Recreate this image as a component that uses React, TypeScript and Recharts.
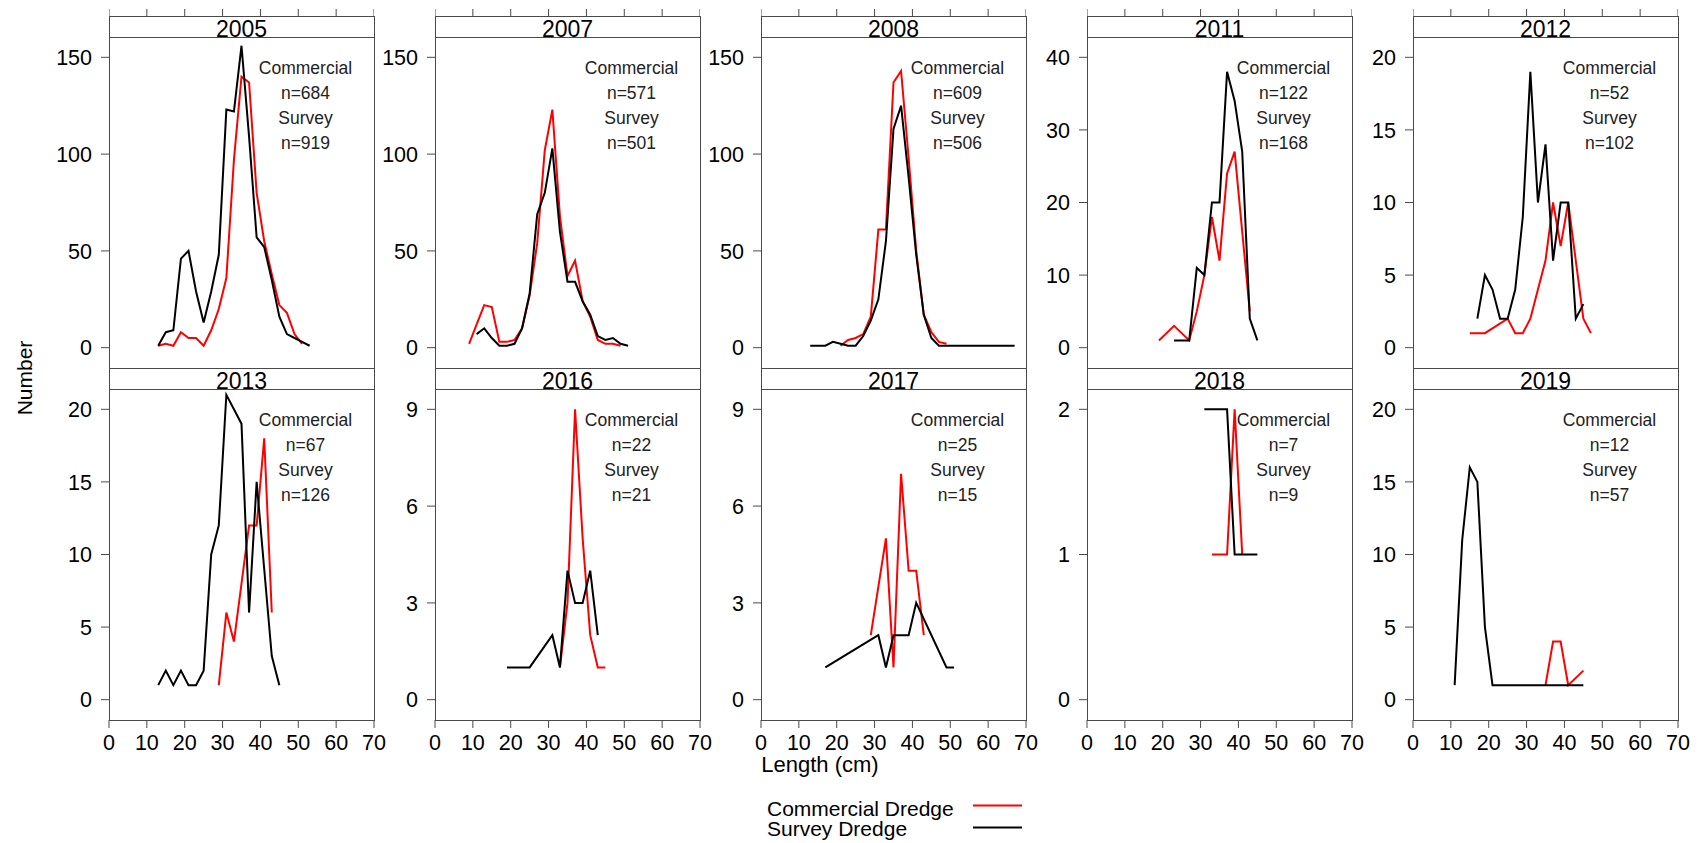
import React from 'react';
import { LineChart, Line, XAxis, YAxis } from 'recharts';

const FONT = '"Liberation Sans", Arial, Helvetica, sans-serif';

// ---- panel metadata ----
const years = ['2005', '2007', '2008', '2011', '2012', '2013', '2016', '2017', '2018', '2019'];
const commercialN = [684, 571, 609, 122, 52, 67, 22, 25, 7, 12];
const surveyN = [919, 501, 506, 168, 102, 126, 21, 15, 9, 57];
const yTickMax = [150, 150, 150, 40, 20, 20, 9, 9, 2, 20];
const yTickStep = [50, 50, 50, 10, 5, 5, 3, 3, 1, 5];
const xTicks = [0, 10, 20, 30, 40, 50, 60, 70];

// ---- length frequency data (length bin mid-point cm, count) ----
const com2005L = [13, 15, 17, 19, 21, 23, 25, 27, 29, 31, 33, 35, 37, 39, 41, 43, 45, 47, 49, 51];
const com2005N = [1, 2, 1, 8, 5, 5, 1, 9, 20, 36, 97, 140, 137, 80, 55, 38, 22, 18, 7, 2];
const sur2005L = [13, 15, 17, 19, 21, 23, 25, 27, 29, 31, 33, 35, 37, 39, 41, 43, 45, 47, 49, 51, 53];
const sur2005N = [1, 8, 9, 46, 50, 29, 13, 29, 48, 123, 122, 156, 109, 57, 52, 35, 16, 7, 5, 3, 1];

const com2007L = [9, 11, 13, 15, 17, 19, 21, 23, 25, 27, 29, 31, 33, 35, 37, 39, 41, 43, 45, 47, 49];
const com2007N = [2, 12, 22, 21, 3, 3, 4, 10, 27, 54, 102, 123, 68, 37, 45, 24, 16, 4, 2, 2, 1];
const sur2007L = [11, 13, 15, 17, 19, 21, 23, 25, 27, 29, 31, 33, 35, 37, 39, 41, 43, 45, 47, 49, 51];
const sur2007N = [7, 10, 5, 1, 1, 2, 10, 28, 69, 80, 103, 60, 34, 34, 24, 17, 6, 4, 5, 2, 1];

const com2008L = [21, 23, 25, 27, 29, 31, 33, 35, 37, 39, 41, 43, 45, 47, 49];
const com2008N = [1, 4, 5, 7, 16, 61, 61, 137, 143, 98, 50, 17, 8, 3, 2];
const sur2008L = [13, 15, 17, 19, 21, 23, 25, 27, 29, 31, 33, 35, 37, 39, 41, 43, 45, 47, 49, 51, 55, 67];
const sur2008N = [1, 1, 1, 3, 2, 1, 1, 6, 14, 25, 55, 113, 125, 88, 48, 17, 5, 1, 1, 1, 1, 1];

const com2011L = [19, 23, 27, 29, 31, 33, 35, 37, 39, 41, 43];
const com2011N = [1, 3, 1, 5, 10, 18, 12, 24, 27, 16, 5];
const sur2011L = [23, 25, 27, 29, 31, 33, 35, 37, 39, 41, 43, 45];
const sur2011N = [1, 1, 1, 11, 10, 20, 20, 38, 34, 27, 4, 1];

const com2012L = [15, 19, 25, 27, 29, 31, 33, 35, 37, 39, 41, 43, 45, 47];
const com2012N = [1, 1, 2, 1, 1, 2, 4, 6, 10, 7, 10, 6, 2, 1];
const sur2012L = [17, 19, 21, 23, 25, 27, 29, 31, 33, 35, 37, 39, 41, 43, 45];
const sur2012N = [2, 5, 4, 2, 2, 4, 9, 19, 10, 14, 6, 10, 10, 2, 3];

const com2013L = [29, 31, 33, 35, 37, 39, 41, 43];
const com2013N = [1, 6, 4, 8, 12, 12, 18, 6];
const sur2013L = [13, 15, 17, 19, 21, 23, 25, 27, 29, 31, 33, 35, 37, 39, 41, 43, 45];
const sur2013N = [1, 2, 1, 2, 1, 1, 2, 10, 12, 21, 20, 19, 6, 15, 9, 3, 1];

const com2016L = [33, 35, 37, 39, 41, 43, 45];
const com2016N = [1, 3, 9, 5, 2, 1, 1];
const sur2016L = [19, 25, 31, 33, 35, 37, 39, 41, 43];
const sur2016N = [1, 1, 2, 1, 4, 3, 3, 4, 2];

const com2017L = [29, 33, 35, 37, 39, 41, 43];
const com2017N = [2, 5, 1, 7, 4, 4, 2];
const sur2017L = [17, 31, 33, 35, 37, 39, 41, 49, 51];
const sur2017N = [1, 2, 1, 2, 2, 2, 3, 1, 1];

const com2018L = [33, 35, 37, 39, 41];
const com2018N = [1, 1, 1, 2, 1];
const sur2018L = [31, 35, 37, 39, 41, 45];
const sur2018N = [2, 2, 2, 1, 1, 1];

const com2019L = [35, 37, 39, 41, 45];
const com2019N = [1, 4, 4, 1, 2];
const sur2019L = [11, 13, 15, 17, 19, 21, 25, 29, 33, 35, 37, 39, 41, 45];
const sur2019N = [1, 11, 16, 15, 5, 1, 1, 1, 1, 1, 1, 1, 1, 1];

const toPts = (l: number[], n: number[]) => l.map((x, i) => ({ x, y: n[i] }));

const commercialSeries = [
  toPts(com2005L, com2005N), toPts(com2007L, com2007N), toPts(com2008L, com2008N),
  toPts(com2011L, com2011N), toPts(com2012L, com2012N), toPts(com2013L, com2013N),
  toPts(com2016L, com2016N), toPts(com2017L, com2017N), toPts(com2018L, com2018N),
  toPts(com2019L, com2019N),
];
const surveySeries = [
  toPts(sur2005L, sur2005N), toPts(sur2007L, sur2007N), toPts(sur2008L, sur2008N),
  toPts(sur2011L, sur2011N), toPts(sur2012L, sur2012N), toPts(sur2013L, sur2013N),
  toPts(sur2016L, sur2016N), toPts(sur2017L, sur2017N), toPts(sur2018L, sur2018N),
  toPts(sur2019L, sur2019N),
];

// ---- layout ----
const COLS = [109, 435, 761, 1087, 1413];
const PW = 265;
const STRIP_TOPS = [16, 368];
const STRIP_H = 21;
const PH = 331;
const AXIS_W = 70;
const RIGHT_PAD = 24;
const XH = 50;
const BOX = '#4a4a4a';
const TICK_FONT = 21.5;

function geom(i: number) {
  const col = i % 5;
  const row = Math.floor(i / 5);
  const left = COLS[col];
  const stripTop = STRIP_TOPS[row];
  const plotTop = stripTop + STRIP_H;
  return { col, row, left, stripTop, plotTop };
}

const NoTick = () => <g />;

function Panel({ i }: { i: number }) {
  const { row, left, plotTop } = geom(i);
  const bottomRow = row === 1;
  const max = yTickMax[i];
  const step = yTickStep[i];
  const yTicks: number[] = [];
  for (let v = 0; v <= max + 1e-9; v += step) yTicks.push(v);
  const domain = [-0.07 * max, 1.07 * max];
  return (
    <div style={{ position: 'absolute', left: left - AXIS_W, top: plotTop }}>
      <LineChart
        width={AXIS_W + PW + RIGHT_PAD}
        height={PH + (bottomRow ? XH : 0)}
        margin={{ top: 0, right: RIGHT_PAD, bottom: 0, left: 0 }}
      >
        <XAxis
          type="number"
          dataKey="x"
          domain={[0, 70]}
          ticks={xTicks}
          interval={0}
          hide={!bottomRow}
          height={XH}
          tickSize={8}
          tickMargin={7}
          axisLine={false}
          tickLine={{ stroke: BOX }}
          tick={{ fontSize: TICK_FONT, fill: '#000', fontFamily: FONT }}
          allowDataOverflow
        />
        <YAxis
          type="number"
          domain={domain}
          ticks={yTicks}
          interval={0}
          width={AXIS_W}
          tickSize={8}
          tickMargin={9}
          axisLine={false}
          tickLine={{ stroke: BOX }}
          tick={{ fontSize: TICK_FONT, fill: '#000', fontFamily: FONT }}
          allowDataOverflow
        />
        <Line
          data={commercialSeries[i]}
          dataKey="y"
          type="linear"
          stroke="#ff0000"
          strokeWidth={2}
          dot={false}
          activeDot={false}
          isAnimationActive={false}
        />
        <Line
          data={surveySeries[i]}
          dataKey="y"
          type="linear"
          stroke="#000000"
          strokeWidth={2}
          dot={false}
          activeDot={false}
          isAnimationActive={false}
        />
      </LineChart>
    </div>
  );
}

// top-axis tick marks drawn above the strips of the upper row
function TopTicks({ i }: { i: number }) {
  const { left, stripTop } = geom(i);
  return (
    <div style={{ position: 'absolute', left, top: stripTop - 7 }}>
      <LineChart
        width={PW}
        height={7 + STRIP_H}
        data={surveySeries[i]}
        margin={{ top: 0, right: 0, bottom: 0, left: 0 }}
      >
        <XAxis
          orientation="top"
          type="number"
          dataKey="x"
          domain={[0, 70]}
          ticks={xTicks}
          interval={0}
          height={7}
          tickSize={7}
          tick={NoTick}
          axisLine={false}
          tickLine={{ stroke: BOX }}
        />
        <YAxis hide type="number" domain={[0, 1000]} />
        <Line dataKey="y" stroke="none" dot={false} activeDot={false} isAnimationActive={false} />
      </LineChart>
    </div>
  );
}

export default function App() {
  return (
    <div
      style={{
        position: 'absolute',
        left: 0,
        top: 0,
        width: 1703,
        height: 843,
        background: '#fff',
        fontFamily: FONT,
      }}
    >
      {years.map((_, i) => (geom(i).row === 0 ? <TopTicks key={'t' + i} i={i} /> : null))}
      {years.map((_, i) => (
        <Panel key={i} i={i} />
      ))}
      <svg
        width={1703}
        height={843}
        style={{ position: 'absolute', left: 0, top: 0, pointerEvents: 'none' }}
        fontFamily={FONT}
      >
        {years.map((y, i) => {
          const { left, stripTop, plotTop } = geom(i);
          const cx = left + 196.5;
          return (
            <g key={y}>
              <rect x={left + 0.5} y={stripTop + 0.5} width={PW} height={STRIP_H} fill="none" stroke={BOX} strokeWidth={1} />
              <rect x={left + 0.5} y={plotTop + 0.5} width={PW} height={PH} fill="none" stroke={BOX} strokeWidth={1} />
              <text x={left + PW / 2} y={plotTop - 0.5} textAnchor="middle" fontSize={23} fill="#000">
                {y}
              </text>
              <text x={cx} y={plotTop + 37} textAnchor="middle" fontSize={17.5} fill="#222">Commercial</text>
              <text x={cx} y={plotTop + 62} textAnchor="middle" fontSize={17.5} fill="#222">{'n=' + commercialN[i]}</text>
              <text x={cx} y={plotTop + 87} textAnchor="middle" fontSize={17.5} fill="#222">Survey</text>
              <text x={cx} y={plotTop + 112} textAnchor="middle" fontSize={17.5} fill="#222">{'n=' + surveyN[i]}</text>
            </g>
          );
        })}
        <text x={24} y={378} textAnchor="middle" dominantBaseline="central" fontSize={21} fill="#000" transform="rotate(-90 24 378)">
          Number
        </text>
        <text x={820} y={772} textAnchor="middle" fontSize={22} fill="#000">
          Length (cm)
        </text>
        <text x={767} y={816} fontSize={21} fill="#000">Commercial Dredge</text>
        <text x={767} y={836} fontSize={21} fill="#000">Survey Dredge</text>
        <line x1={973} x2={1022} y1={805.5} y2={805.5} stroke="#ff0000" strokeWidth={2} />
        <line x1={973} x2={1022} y1={827.5} y2={827.5} stroke="#000" strokeWidth={2} />
      </svg>
    </div>
  );
}
